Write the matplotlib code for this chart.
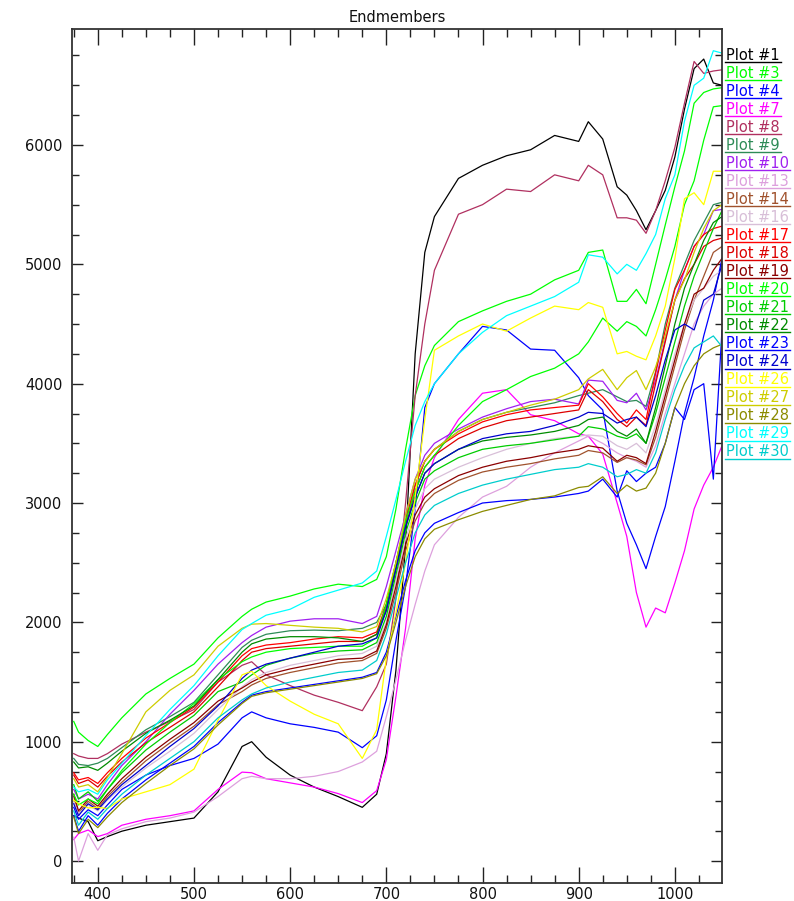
import matplotlib
matplotlib.use("Agg")
import matplotlib.pyplot as plt
from matplotlib.lines import Line2D
from matplotlib.ticker import MultipleLocator

wavelengths = [375, 380, 390, 400, 410, 425, 450, 475, 500, 525, 550, 560, 575, 600,
               625, 650, 675, 690, 700, 710, 720, 730, 740, 750, 775, 800, 825, 850,
               875, 900, 910, 925, 940, 950, 960, 970, 980, 990, 1000, 1010, 1020,
               1030, 1040, 1049]

plot_1 = [380, 360, 330, 170, 205, 250, 300, 330, 360, 580, 960, 1000, 870, 720,
          620, 540, 450, 560, 900, 1600, 2650, 4250, 5100, 5400, 5720, 5830, 5910, 5960,
          6080, 6030, 6195, 6050, 5650, 5580, 5450, 5290, 5450, 5620, 5900, 6300, 6640,
          6720, 6520, 6500]
plot_3 = [1170, 1080, 1010, 960, 1060, 1200, 1400, 1530, 1650, 1870, 2050, 2110, 2170, 2220,
          2280, 2320, 2300, 2360, 2550, 2950, 3450, 3900, 4150, 4320, 4520, 4610, 4690, 4750,
          4870, 4950, 5100, 5120, 4690, 4690, 4790, 4670, 5000, 5330, 5650, 5950, 6350,
          6440, 6470, 6480]
plot_4 = [450, 350, 430, 380, 470, 600, 720, 800, 860, 980, 1200, 1250, 1200, 1150,
          1120, 1080, 950, 1050, 1350, 1850, 2300, 2950, 3800, 4000, 4250, 4480, 4450, 4290,
          4280, 4050, 3900, 3780, 3100, 2830, 2650, 2450, 2720, 2970, 3350, 3750, 4050,
          4400, 4700, 5050]
plot_7 = [180, 230, 260, 205, 230, 300, 350, 380, 420, 600, 745, 740, 690, 655,
          620, 565, 490, 590, 850, 1380, 1950, 2700, 3150, 3380, 3700, 3920, 3950, 3740,
          3690, 3580, 3560, 3410, 3000, 2720, 2250, 1960, 2120, 2080, 2330, 2600, 2950,
          3150, 3300, 3480]
plot_8 = [900, 880, 860, 860, 900, 980, 1080, 1170, 1270, 1500, 1640, 1670, 1560, 1470,
          1390, 1330, 1260, 1460, 1650, 2200, 3000, 3900, 4500, 4950, 5420, 5500, 5630, 5610,
          5750, 5700, 5830, 5750, 5390, 5390, 5370, 5260, 5450, 5700, 5980, 6350, 6700,
          6600, 6620, 6630]
plot_9 = [860, 810, 800, 820, 860, 950, 1100, 1210, 1330, 1560, 1790, 1850, 1900, 1930,
          1935, 1930, 1950, 2000, 2150, 2500, 2850, 3150, 3350, 3450, 3600, 3700, 3760, 3800,
          3840, 3900, 3920, 3950, 3890, 3850, 3860, 3810, 4100, 4500, 4800, 5000, 5200,
          5350, 5500, 5520]
plot_10 = [600, 520, 560, 520, 640, 800, 1000, 1230, 1430, 1650, 1830, 1890, 1960, 2010,
           2030, 2030, 1990, 2050, 2300, 2600, 2900, 3200, 3400, 3500, 3620, 3720, 3790, 3850,
           3870, 3830, 4030, 4020, 3860, 3840, 3920, 3780, 4030, 4370, 4700, 4950, 5150,
           5250, 5450, 5460]
plot_13 = [200, 0, 230, 90, 220, 270, 330, 360, 410, 540, 690, 710, 690, 690,
           710, 750, 830, 920, 1210, 1520, 1850, 2150, 2430, 2650, 2880, 3050, 3140, 3300,
           3420, 3520, 3560, 3500, 3420, 3380, 3350, 3300, 3480, 3750, 4000, 4250, 4500,
           4650, 4750, 4800]
plot_14 = [540, 400, 500, 440, 540, 660, 840, 990, 1130, 1310, 1420, 1475, 1530, 1580,
           1620, 1660, 1680, 1740, 1950, 2250, 2600, 2850, 3000, 3080, 3190, 3260, 3300, 3330,
           3370, 3400, 3440, 3420, 3340, 3380, 3360, 3320, 3550, 3850, 4150, 4450, 4700,
           4900, 5100, 5150]
plot_16 = [500, 400, 470, 420, 510, 620, 780, 920, 1070, 1270, 1460, 1520, 1580, 1640,
           1680, 1720, 1740, 1800, 2000, 2350, 2700, 2950, 3120, 3200, 3300, 3380, 3450, 3500,
           3540, 3560, 3570, 3560, 3480, 3450, 3500, 3420, 3650, 3950, 4250, 4500, 4700,
           4800, 4900, 4950]
plot_17 = [740, 680, 700, 650, 740, 860, 1030, 1160, 1290, 1500, 1720, 1780, 1810, 1830,
           1860, 1880, 1870, 1920, 2150, 2500, 2850, 3150, 3350, 3450, 3580, 3680, 3740, 3780,
           3800, 3820, 4000, 3890, 3750, 3670, 3780, 3700, 4090, 4450, 4790, 4950, 5150,
           5250, 5300, 5320]
plot_18 = [720, 650, 680, 620, 710, 830, 990, 1120, 1250, 1460, 1680, 1750, 1780, 1800,
           1820, 1840, 1840, 1900, 2120, 2450, 2800, 3100, 3300, 3400, 3540, 3630, 3690, 3720,
           3750, 3780, 3950, 3850, 3700, 3640, 3720, 3650, 4000, 4350, 4700, 4880, 5000,
           5150, 5200, 5220]
plot_19 = [560, 420, 520, 460, 560, 690, 870, 1020, 1160, 1340, 1450, 1500, 1560, 1610,
           1650, 1690, 1700, 1760, 1980, 2300, 2650, 2900, 3050, 3120, 3230, 3300, 3350, 3380,
           3420, 3450, 3480, 3460, 3350, 3400, 3380, 3330, 3600, 3900, 4200, 4500, 4750,
           4800, 4950, 5050]
plot_20 = [560, 470, 520, 480, 600, 760, 980, 1160, 1320, 1520, 1670, 1710, 1750, 1780,
           1790, 1800, 1800, 1870, 2150, 2500, 2850, 3100, 3300, 3400, 3650, 3850, 3950, 4060,
           4130, 4250, 4350, 4550, 4440, 4520, 4480, 4400, 4620, 4870, 5150, 5500, 5700,
           6040, 6320, 6330]
plot_21 = [640, 520, 580, 500, 600, 740, 930, 1080, 1220, 1420, 1500, 1560, 1640, 1700,
           1740, 1760, 1770, 1830, 2050, 2400, 2750, 3000, 3200, 3270, 3380, 3450, 3480, 3500,
           3530, 3560, 3640, 3620, 3560, 3540, 3580, 3500, 3750, 4050, 4350, 4650, 4900,
           5100, 5300, 5450]
plot_22 = [830, 780, 790, 760, 820, 920, 1070, 1180, 1300, 1520, 1750, 1820, 1860, 1880,
           1880, 1870, 1840, 1900, 2100, 2450, 2800, 3050, 3250, 3330, 3450, 3520, 3550, 3570,
           3600, 3650, 3700, 3720, 3600, 3560, 3620, 3500, 3800, 4150, 4500, 4800, 5000,
           5200, 5350, 5400]
plot_23 = [380, 250, 380, 300, 400, 520, 680, 820, 960, 1160, 1330, 1390, 1420, 1450,
           1480, 1510, 1540, 1580, 1750, 2050, 2350, 2600, 2750, 2830, 2920, 3000, 3020, 3030,
           3050, 3080, 3100, 3200, 3050, 3270, 3180, 3250, 3300, 3500, 3800, 3700, 3950,
           4000, 3200, 4450]
plot_24 = [480, 380, 480, 430, 520, 640, 800, 960, 1110, 1300, 1530, 1600, 1650, 1700,
           1750, 1800, 1820, 1870, 2100, 2450, 2800, 3050, 3250, 3330, 3450, 3540, 3580, 3600,
           3650, 3720, 3760, 3750, 3670, 3700, 3720, 3640, 3900, 4200, 4450, 4500, 4450,
           4700, 4750, 5000]
plot_26 = [510, 480, 445, 450, 440, 520, 580, 640, 770, 1180, 1560, 1590, 1470, 1340,
           1230, 1150, 860, 1100, 1700, 2080, 2500, 3050, 3700, 4280, 4400, 4500, 4440, 4550,
           4650, 4620, 4680, 4640, 4250, 4270, 4230, 4200, 4400, 4650, 5050, 5550, 5600,
           5500, 5780, 5780]
plot_27 = [690, 620, 640, 580, 700, 900, 1250, 1430, 1560, 1800, 1950, 1985, 1990, 1975,
           1960, 1950, 1920, 1965, 2200, 2500, 2900, 3200, 3350, 3450, 3600, 3700, 3760, 3820,
           3870, 3950, 4040, 4120, 3950, 4050, 4110, 3950, 4140, 4400, 4700, 4870, 5100,
           5300, 5450, 5500]
plot_28 = [370, 230, 350, 280, 370, 490, 650, 800, 940, 1140, 1320, 1380, 1410, 1440,
           1470, 1500, 1530, 1570, 1720, 2000, 2300, 2550, 2700, 2780, 2860, 2930, 2980, 3030,
           3060, 3130, 3140, 3220, 3080, 3150, 3100, 3125, 3250, 3500, 3800, 4000, 4150,
           4250, 4300, 4330]
plot_29 = [620, 580, 600, 560, 680, 820, 1050, 1270, 1470, 1720, 1940, 1990, 2060, 2110,
           2210, 2270, 2330, 2430, 2720, 3030, 3350, 3650, 3850, 4000, 4250, 4430, 4570, 4650,
           4730, 4850, 5080, 5060, 4920, 5000, 4950, 5090, 5250, 5550, 5750, 6200, 6500,
           6560, 6790, 6770]
plot_30 = [420, 300, 410, 350, 440, 560, 720, 860, 1000, 1200, 1350, 1400, 1450, 1500,
           1540, 1580, 1600, 1680, 1900, 2200, 2500, 2750, 2900, 2980, 3080, 3150, 3200, 3240,
           3280, 3300, 3330, 3300, 3220, 3240, 3280, 3250, 3420, 3700, 3950, 4150, 4300,
           4350, 4400, 4310]

labels = ["Plot #1", "Plot #3", "Plot #4", "Plot #7", "Plot #8", "Plot #9", "Plot #10",
          "Plot #13", "Plot #14", "Plot #16", "Plot #17", "Plot #18", "Plot #19", "Plot #20",
          "Plot #21", "Plot #22", "Plot #23", "Plot #24", "Plot #26", "Plot #27", "Plot #28",
          "Plot #29", "Plot #30"]
colors = ["#000000", "#00ff00", "#0000ff", "#ff00ff", "#b03060", "#2e8b57", "#a020f0",
          "#dda0dd", "#a0522d", "#d8bfd8", "#ff0000", "#dd0000", "#8b0000", "#00ff00",
          "#00cd00", "#008b00", "#0000ff", "#0000cd", "#ffff00", "#cdcd00", "#8b8b00",
          "#00ffff", "#00cdcd"]
series = [plot_1, plot_3, plot_4, plot_7, plot_8, plot_9, plot_10, plot_13, plot_14,
          plot_16, plot_17, plot_18, plot_19, plot_20, plot_21, plot_22, plot_23, plot_24,
          plot_26, plot_27, plot_28, plot_29, plot_30]

W, H = 794, 901
fig = plt.figure(figsize=(W / 100, H / 100), dpi=100)
ax = fig.add_axes([72 / W, 1 - 883 / H, (722 - 72) / W, (883 - 29) / H])

for vals, c in zip(series, colors):
    ax.plot(wavelengths, vals, color=c, lw=0.9)

ax.set_xlim(373.2, 1049)
ax.set_ylim(-184, 6972)
ax.xaxis.set_major_locator(MultipleLocator(100))
ax.xaxis.set_minor_locator(MultipleLocator(25))
ax.yaxis.set_major_locator(MultipleLocator(1000))
ax.yaxis.set_minor_locator(MultipleLocator(250))

ax.tick_params(axis="both", which="both", direction="in", top=True, right=True,
               colors="#222222", labelcolor="#111111", labelsize=10.5)
ax.tick_params(axis="x", which="major", length=11.5, width=1.0, pad=3)
ax.tick_params(axis="x", which="minor", length=5.8, width=1.0)
ax.tick_params(axis="y", which="major", length=8, width=1.0, pad=7)
ax.tick_params(axis="y", which="minor", length=5, width=1.0)
for sp in ax.spines.values():
    sp.set_linewidth(1.3)
    sp.set_color("#333333")

fig.text(397 / W, 1 - 17 / H, "Endmembers", ha="center", va="center",
         fontsize=10.5, color="#111111")

# legend column at the right: coloured text with an underline in the same colour
texts = []
for i, (lab, c) in enumerate(zip(labels, colors)):
    y = 55 + i * 18.03
    t = fig.text(726 / W, 1 - y / H, lab, ha="left", va="center", fontsize=10.5, color=c)
    texts.append((t, y, c))

fig.canvas.draw()
renderer = fig.canvas.get_renderer()
for t, y, c in texts:
    bb = t.get_window_extent(renderer)
    yl = 1 - (y + 7) / H
    fig.add_artist(Line2D([725 / W, (bb.x1 + 1) / W], [yl, yl], color=c, lw=1.0,
                          transform=fig.transFigure))

fig.savefig("out.png", dpi=100)
